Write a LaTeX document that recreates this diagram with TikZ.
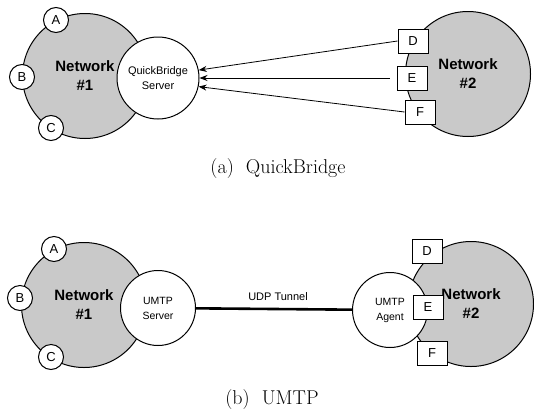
\documentclass[tikz,border=0pt]{standalone}
\usepackage{fontspec}
\setsansfont{Liberation Sans}
\usetikzlibrary{arrows.meta, positioning}

\begin{document}
\begin{tikzpicture}[
    x=1pt, y=-1pt,
    net/.style={circle, draw=black, line width=1pt, fill=gray!42, minimum size=125pt, inner sep=0pt, align=center, font=\sffamily\bfseries\fontsize{15}{19}\selectfont},
    host/.style={circle, draw=black, line width=1pt, fill=white, minimum size=25pt, inner sep=0pt, font=\sffamily\fontsize{13}{13}\selectfont},
    term/.style={rectangle, draw=black, line width=1pt, fill=white, minimum width=30pt, minimum height=24pt, inner sep=0pt, font=\sffamily\fontsize{13}{13}\selectfont},
    srv/.style={circle, draw=black, line width=1pt, fill=white, minimum size=75pt, inner sep=0pt, align=center, font=\sffamily\fontsize{10.5}{15}\selectfont},
    arrow/.style={-{Stealth[length=8pt, width=6pt]}, line width=0.8pt},
    tunnel/.style={line width=2.6pt},
    caption/.style={font=\rmfamily\fontsize{20}{20}\selectfont}
]
\useasboundingbox (0,0) rectangle (534,415);

% (a) QuickBridge
\node[net] (neta1) at (85,76) {Network\\\#1};
\node[net] (neta2) at (468,74) {Network\\\#2};
\node[srv, minimum size=82pt, font=\sffamily\fontsize{11}{15}\selectfont] (qbs) at (158,78) {QuickBridge\\Server};
\node[host] (ha) at (56,20) {A};
\node[host] (hb) at (22,77) {B};
\node[host] (hc) at (51,128) {C};
\node[term] (td) at (413,41) {D};
\node[term] (te) at (412,78) {E};
\node[term] (tf) at (420,112) {F};

\draw[arrow] (td.west) -- (qbs.11);
\draw[arrow, shorten <=7pt] (te.west) -- (qbs.0);
\draw[arrow] (tf.west) -- (qbs.-12);

\node[caption] (capa) at (278,169) {(a)~~QuickBridge};

% (b) UMTP
\node[net] (netb1) at (84,305) {Network\\\#1};
\node[net] (netb2) at (471,304) {Network\\\#2};
\node[srv] (ums) at (158,308) {UMTP\\Server};
\node[srv] (uma) at (390,310) {UMTP\\Agent};
\node[host] (hba) at (54,249) {A};
\node[host] (hbb) at (20,298) {B};
\node[host] (hbc) at (51,357) {C};
\node[term] (tbd) at (427,251) {D};
\node[term] (tbe) at (428,307) {E};
\node[term] (tbf) at (432,353) {F};

\draw[tunnel] (ums) -- node[above=4pt, font=\sffamily\fontsize{11}{11}\selectfont, xshift=4pt] {UDP Tunnel} (uma);

\node[caption] (capb) at (272,400) {(b)~~UMTP};

\end{tikzpicture}
\end{document}
